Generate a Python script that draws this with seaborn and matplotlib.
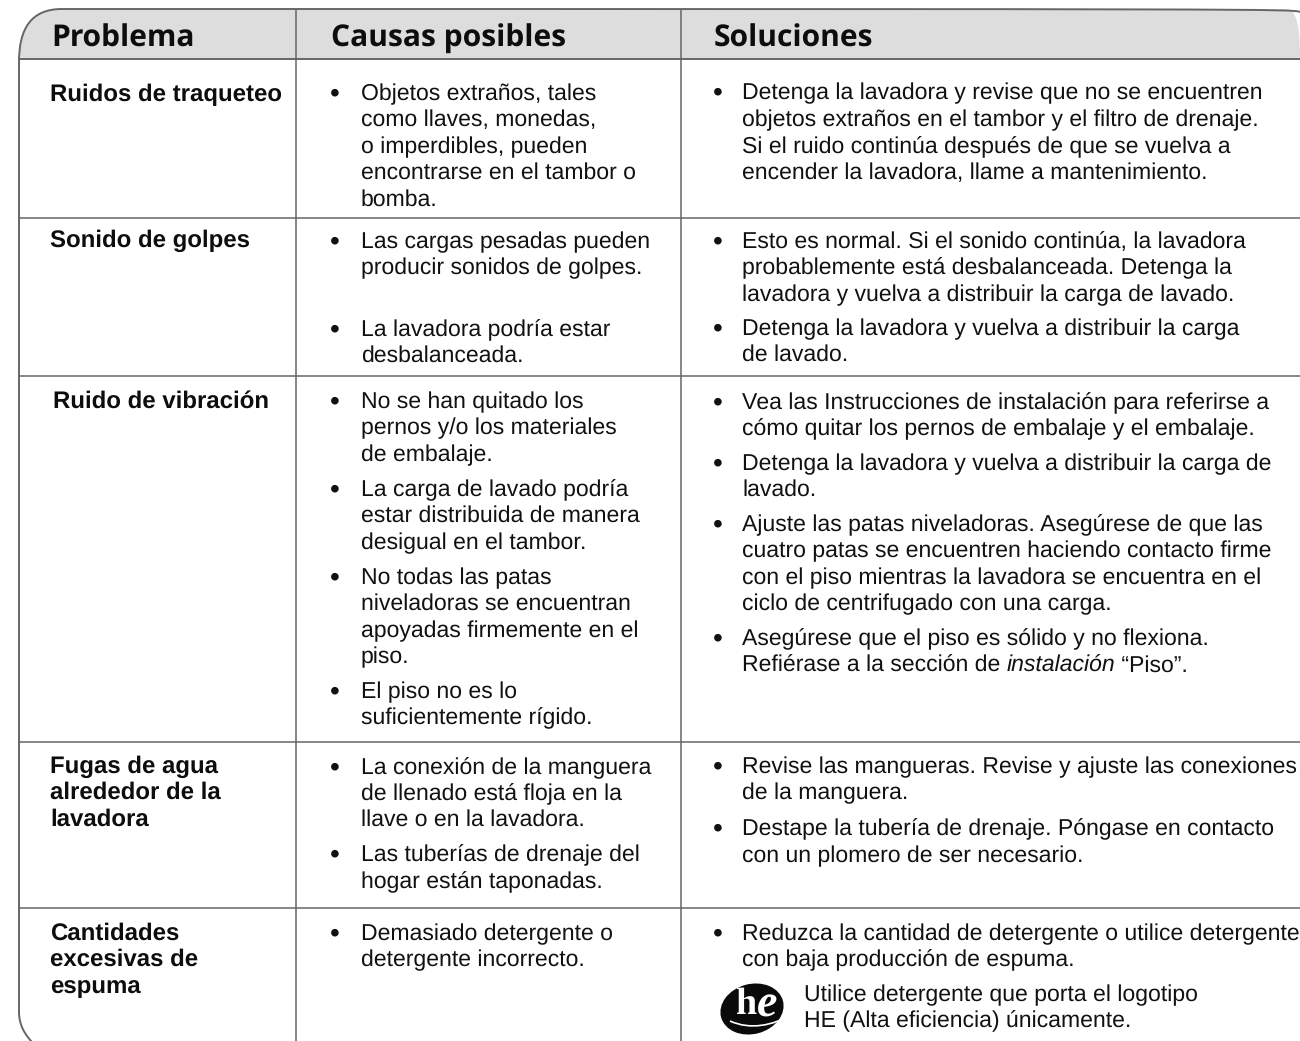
import matplotlib
matplotlib.use("Agg")
import matplotlib.pyplot as plt
import seaborn as sns
from matplotlib.patches import Ellipse, PathPatch
from matplotlib.path import Path

# table text
headers = ["Problema", "Causas posibles", "Soluciones"]
problemas = [
    "Ruidos de traqueteo",
    "Sonido de golpes",
    "Ruido de vibración",
    "Fugas de agua",
    "alrededor de la",
    "lavadora",
    "Cantidades",
    "excesivas de",
    "espuma",
]
causas = [
    "Objetos extraños, tales",
    "como llaves, monedas,",
    "o imperdibles, pueden",
    "encontrarse en el tambor o",
    "bomba.",
    "Las cargas pesadas pueden",
    "producir sonidos de golpes.",
    "La lavadora podría estar",
    "desbalanceada.",
    "No se han quitado los",
    "pernos y/o los materiales",
    "de embalaje.",
    "La carga de lavado podría",
    "estar distribuida de manera",
    "desigual en el tambor.",
    "No todas las patas",
    "niveladoras se encuentran",
    "apoyadas firmemente en el",
    "piso.",
    "El piso no es lo",
    "suficientemente rígido.",
    "La conexión de la manguera",
    "de llenado está floja en la",
    "llave o en la lavadora.",
    "Las tuberías de drenaje del",
    "hogar están taponadas.",
    "Demasiado detergente o",
    "detergente incorrecto.",
]
soluciones = [
    "Detenga la lavadora y revise que no se encuentren",
    "objetos extraños en el tambor y el filtro de drenaje.",
    "Si el ruido continúa después de que se vuelva a",
    "encender la lavadora, llame a mantenimiento.",
    "Esto es normal. Si el sonido continúa, la lavadora",
    "probablemente está desbalanceada. Detenga la",
    "lavadora y vuelva a distribuir la carga de lavado.",
    "Detenga la lavadora y vuelva a distribuir la carga",
    "de lavado.",
    "Vea las Instrucciones de instalación para referirse a",
    "cómo quitar los pernos de embalaje y el embalaje.",
    "Detenga la lavadora y vuelva a distribuir la carga de",
    "lavado.",
    "Ajuste las patas niveladoras. Asegúrese de que las",
    "cuatro patas se encuentren haciendo contacto firme",
    "con el piso mientras la lavadora se encuentra en el",
    "ciclo de centrifugado con una carga.",
    "Asegúrese que el piso es sólido y no flexiona.",
    "Revise las mangueras. Revise y ajuste las conexiones",
    "de la manguera.",
    "Destape la tubería de drenaje. Póngase en contacto",
    "con un plomero de ser necesario.",
    "Reduzca la cantidad de detergente o utilice detergente",
    "con baja producción de espuma.",
]
# line with the italic word, drawn in three pieces
ref_partes = ["Refiérase a la sección de ", "instalación", " “Piso”."]
logo_lineas = ["Utilice detergente que porta el logotipo", "HE (Alta eficiencia) únicamente."]

# baselines in picture pixels
problemas_y = [101, 247, 408, 773, 799, 826, 940, 966, 993]
problemas_x = [50, 50, 53, 50, 50, 50, 50, 50, 50]
causas_y = [100, 126, 153, 179, 206, 248, 274, 336, 362, 408, 434, 461, 496, 522, 549,
            584, 610, 637, 663, 698, 724, 774, 800, 826, 861, 888, 940, 966]
causas_bullets = [100, 248, 336, 408, 496, 584, 698, 774, 861, 940]
sol_y = [99, 126, 153, 179, 248, 274, 301, 335, 361, 409, 435, 470, 496, 531, 557, 584, 610,
         645, 773, 799, 835, 862, 940, 966]
sol_bullets = [99, 248, 335, 409, 470, 531, 645, 773, 835, 940]
ref_y = 672
logo_y = [1001, 1027]
filas_y = [218, 376, 742, 908]
columnas_x = [296, 681]

sns.set_theme(style="white")
plt.rcParams["font.family"] = ["Liberation Sans", "DejaVu Sans"]
plt.rcParams["text.hinting"] = "no_hinting"
plt.rcParams["text.hinting_factor"] = 1

fig = plt.figure(figsize=(13, 10.41), dpi=100)
ax = fig.add_axes([0, 0, 1, 1])
ax.set_xlim(0, 1300)
ax.set_ylim(1041, 0)
ax.axis("off")

LINEA = "#666666"
TXT = 16.5
BOLD = 17.1

# header band with rounded corner
cabecera = Path(
    [(19, 58.5), (19, 62), (19, 30), (30, 9), (62, 9), (1283, 9), (1293, 9), (1300, 12), (1300, 58.5), (19, 58.5)],
    [Path.MOVETO, Path.LINETO, Path.CURVE4, Path.CURVE4, Path.CURVE4, Path.LINETO,
     Path.CURVE4, Path.CURVE4, Path.LINETO, Path.CLOSEPOLY],
)
ax.add_patch(PathPatch(cabecera, facecolor="#dcdddc", edgecolor="none", zorder=1))

# outer frame
borde = Path(
    [(1300, 12), (1293, 9), (1283, 9), (62, 9), (30, 9), (19, 30), (19, 62), (19, 1012), (19, 1025), (25, 1035), (33, 1043)],
    [Path.MOVETO, Path.CURVE4, Path.CURVE4, Path.LINETO, Path.CURVE4, Path.CURVE4, Path.CURVE4,
     Path.LINETO, Path.CURVE4, Path.CURVE4, Path.CURVE4],
)
ax.add_patch(PathPatch(borde, facecolor="none", edgecolor=LINEA, lw=1.4, zorder=3))

ax.hlines(58.5, 19, 1300, color=LINEA, lw=1.4, zorder=3)
ax.hlines(filas_y, 19, 1300, color=LINEA, lw=1.1, zorder=3)
ax.vlines(columnas_x, 9, 1041, color=LINEA, lw=1.1, zorder=3)

# headers
for x, h in zip([51, 331, 714], headers):
    ax.text(x, 47, h, family=["Open Sans", "DejaVu Sans"], fontweight="bold", fontsize=21.4,
            color="#0d0d0d", va="baseline", ha="left", zorder=4)

for x, y, t in zip(problemas_x, problemas_y, problemas):
    ax.text(x, y, t, fontweight="bold", fontsize=BOLD, color="#0d0d0d", va="baseline")

for y, t in zip(causas_y, causas):
    ax.text(361, y, t, fontsize=TXT, color="#111111", va="baseline")
for y in causas_bullets:
    ax.text(330, y + 1, "•", fontsize=20, color="#111111", va="baseline")

for y, t in zip(sol_y, soluciones):
    ax.text(742, y, t, fontsize=TXT, color="#111111", va="baseline")
for y in sol_bullets:
    ax.text(713, y + 1, "•", fontsize=20, color="#111111", va="baseline")

# the mixed roman / italic line
fig.canvas.draw()
renderer = fig.canvas.get_renderer()
x_act = 742
for parte, estilo in zip(ref_partes, ["normal", "italic", "normal"]):
    # trailing spaces are not measured, so measure with a stand-in
    t = ax.text(x_act, ref_y, parte, fontsize=TXT, style=estilo, color="#111111", va="baseline")
    medida = ax.text(0, 0, parte.replace(" ", "\u00a0"), fontsize=TXT, style=estilo)
    x_act += medida.get_window_extent(renderer).width
    medida.remove()

# HE logo
ax.add_patch(Ellipse((752, 1009), 64, 50, angle=-15, facecolor="#0a0a0a", edgecolor="none", zorder=2))
ax.text(746, 1014, "h", family="Liberation Serif", fontweight="bold",
        fontsize=27, color="white", ha="center", va="baseline", zorder=5)
ax.text(767, 1017, "e", family="Liberation Serif", style="italic", fontweight="bold",
        fontsize=33, color="white", ha="center", va="baseline", zorder=5)
arco = Path([(730, 1021), (750, 1030), (772, 1026), (793, 1014)],
            [Path.MOVETO, Path.CURVE4, Path.CURVE4, Path.CURVE4])
ax.add_patch(PathPatch(arco, facecolor="none", edgecolor="white", lw=1.2, zorder=4))

for y, t in zip(logo_y, logo_lineas):
    ax.text(804, y, t, fontsize=TXT, color="#111111", va="baseline")

fig.savefig("out.png", dpi=100, facecolor="white")
plt.close(fig)
